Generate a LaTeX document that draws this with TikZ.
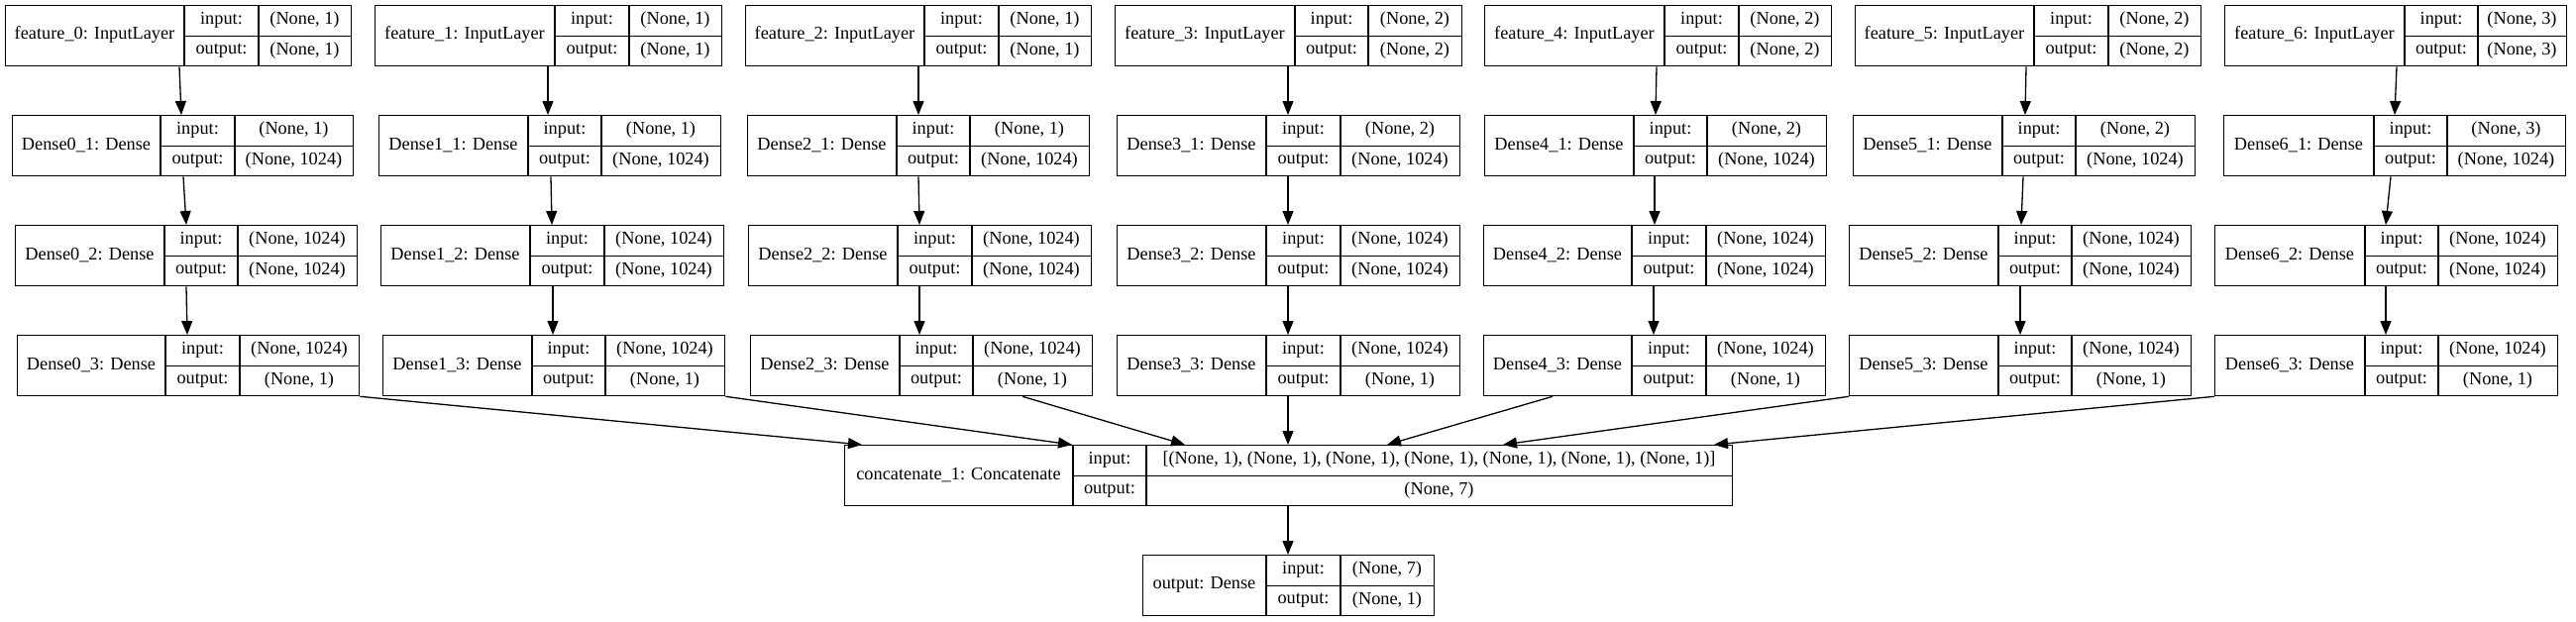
\documentclass[tikz,border=0pt]{standalone}
\usepackage{fontspec}
\setmainfont{Liberation Serif}
\usetikzlibrary{arrows.meta}
\tikzset{
  box/.style={draw=black, line width=1.3pt, inner sep=0pt, rectangle},
  cell/.style={inner sep=0pt, font=\fontsize{18.3}{21}\selectfont},
  sepline/.style={draw=black, line width=1.3pt},
  arr/.style={draw=black, line width=1.3pt, -{Triangle[length=14pt,width=11pt]}}
}
% name, x0, x1, x2, x3, ytop, label, input, output
\newcommand{\klayer}[9]{%
  \pgfmathsetmacro\kw{#5-#2}%
  \pgfmathsetmacro\kxa{(#2+#3)/2}%
  \pgfmathsetmacro\kxb{(#3+#4)/2}%
  \pgfmathsetmacro\kxc{(#4+#5)/2}%
  \pgfmathsetmacro\kym{#6+30.5}%
  \pgfmathsetmacro\kyi{#6+15.5}%
  \pgfmathsetmacro\kyo{#6+46}%
  \node[box, minimum width=\kw pt, minimum height=61pt, anchor=north west] (#1) at (#2,#6) {};
  \draw[sepline] (#1.north -| #3,0) -- (#1.south -| #3,0);
  \draw[sepline] (#1.north -| #4,0) -- (#1.south -| #4,0);
  \draw[sepline] (#1.center -| #3,0) -- (#1.east);
  \node[cell] (#1-l) at (\kxa,\kym) {#7};
  \node[cell] (#1-il) at (\kxb,\kyi) {input:};
  \node[cell] (#1-ol) at (\kxb,\kyo) {output:};
  \node[cell] (#1-iv) at (\kxc,\kyi) {#8};
  \node[cell] (#1-ov) at (\kxc,\kyo) {#9};
}
% src, x at src, dst, x at dst
\newcommand{\kconn}[4]{\draw[arr] (#1.south -| #2,0) -- (#3.north -| #4,0);}
\begin{document}
\begin{tikzpicture}[x=1pt,y=-1pt]
\useasboundingbox (0,0) rectangle (2600,627);
% column 0
\klayer{f0}{5}{186}{261}{354}{5}{feature\_0: InputLayer}{(None, 1)}{(None, 1)}
\klayer{d01}{12}{162}{237}{356}{116}{Dense0\_1: Dense}{(None, 1)}{(None, 1024)}
\klayer{d02}{15}{166}{240}{360}{227}{Dense0\_2: Dense}{(None, 1024)}{(None, 1024)}
\klayer{d03}{17}{167}{242}{362}{338}{Dense0\_3: Dense}{(None, 1024)}{(None, 1)}
% column 1
\klayer{f1}{378}{560}{635}{728}{5}{feature\_1: InputLayer}{(None, 1)}{(None, 1)}
\klayer{d11}{382}{533}{607}{727}{116}{Dense1\_1: Dense}{(None, 1)}{(None, 1024)}
\klayer{d12}{384}{535}{610}{730}{227}{Dense1\_2: Dense}{(None, 1024)}{(None, 1024)}
\klayer{d13}{386}{537}{611}{731}{338}{Dense1\_3: Dense}{(None, 1024)}{(None, 1)}
% column 2
\klayer{f2}{752}{933}{1008}{1101}{5}{feature\_2: InputLayer}{(None, 1)}{(None, 1)}
\klayer{d21}{754}{905}{979}{1099}{116}{Dense2\_1: Dense}{(None, 1)}{(None, 1024)}
\klayer{d22}{755}{906}{981}{1101}{227}{Dense2\_2: Dense}{(None, 1024)}{(None, 1024)}
\klayer{d23}{757}{908}{982}{1102}{338}{Dense2\_3: Dense}{(None, 1024)}{(None, 1)}
% column 3
\klayer{f3}{1125}{1307}{1381}{1475}{5}{feature\_3: InputLayer}{(None, 2)}{(None, 2)}
\klayer{d31}{1127}{1278}{1353}{1473}{116}{Dense3\_1: Dense}{(None, 2)}{(None, 1024)}
\klayer{d32}{1127}{1278}{1353}{1473}{227}{Dense3\_2: Dense}{(None, 1024)}{(None, 1024)}
\klayer{d33}{1127}{1278}{1353}{1473}{338}{Dense3\_3: Dense}{(None, 1024)}{(None, 1)}
% column 4
\klayer{f4}{1498}{1680}{1755}{1848}{5}{feature\_4: InputLayer}{(None, 2)}{(None, 2)}
\klayer{d41}{1498}{1649}{1723}{1843}{116}{Dense4\_1: Dense}{(None, 2)}{(None, 1024)}
\klayer{d42}{1497}{1647}{1722}{1842}{227}{Dense4\_2: Dense}{(None, 1024)}{(None, 1024)}
\klayer{d43}{1497}{1647}{1722}{1842}{338}{Dense4\_3: Dense}{(None, 1024)}{(None, 1)}
% column 5
\klayer{f5}{1872}{2053}{2128}{2221}{5}{feature\_5: InputLayer}{(None, 2)}{(None, 2)}
\klayer{d51}{1870}{2021}{2095}{2215}{116}{Dense5\_1: Dense}{(None, 2)}{(None, 1024)}
\klayer{d52}{1866}{2017}{2091}{2211}{227}{Dense5\_2: Dense}{(None, 1024)}{(None, 1024)}
\klayer{d53}{1866}{2017}{2091}{2211}{338}{Dense5\_3: Dense}{(None, 1024)}{(None, 1)}
% column 6
\klayer{f6}{2245}{2427}{2501}{2590}{5}{feature\_6: InputLayer}{(None, 3)}{(None, 3)}
\klayer{d61}{2244}{2396}{2470}{2589}{116}{Dense6\_1: Dense}{(None, 3)}{(None, 1024)}
\klayer{d62}{2235}{2387}{2461}{2581}{227}{Dense6\_2: Dense}{(None, 1024)}{(None, 1024)}
\klayer{d63}{2235}{2387}{2461}{2581}{338}{Dense6\_3: Dense}{(None, 1024)}{(None, 1)}
% concatenate and output
\klayer{cat}{852}{1083}{1157}{1748}{449}{concatenate\_1: Concatenate}{[(None, 1), (None, 1), (None, 1), (None, 1), (None, 1), (None, 1), (None, 1)]}{(None, 7)}
\klayer{out}{1153}{1278}{1353}{1447}{560}{output: Dense}{(None, 7)}{(None, 1)}
% vertical connectors
\kconn{f0}{181}{d01}{183} \kconn{d01}{185}{d02}{188} \kconn{d02}{188}{d03}{189}
\kconn{f1}{553}{d11}{553} \kconn{d11}{556}{d12}{557} \kconn{d12}{558}{d13}{558}
\kconn{f2}{927}{d21}{927} \kconn{d21}{927}{d22}{928} \kconn{d22}{928}{d23}{928}
\kconn{f3}{1300}{d31}{1300} \kconn{d31}{1300}{d32}{1300} \kconn{d32}{1300}{d33}{1300}
\kconn{f4}{1672}{d41}{1671} \kconn{d41}{1670}{d42}{1670} \kconn{d42}{1669}{d43}{1669}
\kconn{f5}{2045}{d51}{2044} \kconn{d51}{2042}{d52}{2040} \kconn{d52}{2039}{d53}{2039}
\kconn{f6}{2419}{d61}{2417} \kconn{d61}{2413}{d62}{2408} \kconn{d62}{2408}{d63}{2408}
% into concatenate
\draw[arr] (d03.south east) -- (cat.north -| 870,0);
\draw[arr] (d13.south east) -- (cat.north -| 1082,0);
\kconn{d23}{1032}{cat}{1196}
\kconn{d33}{1300}{cat}{1300}
\kconn{d43}{1567}{cat}{1400}
\draw[arr] (d53.south west) -- (cat.north -| 1517,0);
\draw[arr] (d63.south west) -- (cat.north -| 1730,0);
\kconn{cat}{1300}{out}{1300}
\end{tikzpicture}
\end{document}
